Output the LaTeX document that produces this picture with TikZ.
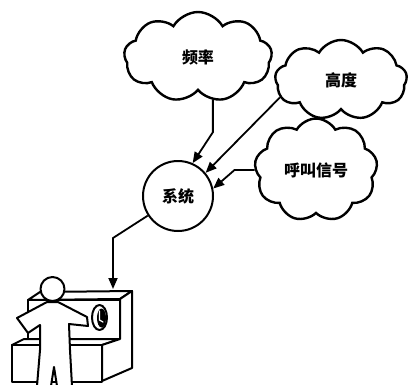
\documentclass[tikz,border=0pt]{standalone}
\usepackage{fontspec}
\newfontfamily\cjk{Noto Sans CJK SC}
\usetikzlibrary{shapes.symbols,arrows.meta}
\begin{document}
\begin{tikzpicture}[x=1pt,y=-1pt,
  ink/.style={line width=2pt,line join=round},
  idea/.style={cloud,cloud puffs=9,cloud puff arc=120,draw,line width=2.4pt,
    inner sep=0pt,font=\cjk\fontsize{16}{16}\selectfont\bfseries},
  hub/.style={circle,draw,line width=2pt,minimum size=70pt,inner sep=0pt,
    font=\cjk\fontsize{16}{16}\selectfont\bfseries},
  flow/.style={line width=1.8pt,-{Triangle[length=11pt,width=9pt]}},
  solid/.style={ink,fill=white}]
\useasboundingbox (0,0) rectangle (408,384);

% inputs and the system
\node[idea,minimum width=148pt,minimum height=90pt] (c1) at (198,57) {频率};
\node[idea,minimum width=132pt,minimum height=80pt] (c2) at (341,80) {高度};
\node[idea,minimum width=123pt,minimum height=78pt] (c3) at (316,170) {呼叫信号};
\node[hub] (sys) at (178,196) {系统};

% connectors
\coordinate (bend) at (113,238);
\coordinate (op) at (113,289);
\draw[flow] (c1.-71) -- ++(0,32) -- (sys.66);
\draw[flow] (c2.196) -- (sys.40);
\draw[flow] (c3.west) -- ++(-20,0) -- (sys.12);
\draw[flow] (sys.213) -- (bend) -- (op);

% operator console: upper housing
\draw[solid] (28,300) -- (40,292) -- (132,291) -- (120,299) -- cycle;
\draw[solid] (28,300) rectangle (120,340);
% lower desk
\draw[solid] (12,345) -- (24,339) -- (120,339) -- (102,345) -- cycle;
\draw[solid] (12,345) rectangle (102,382);
% side panel
\draw[solid] (102,345) -- (120,339) -- (120,299) -- (132,291) -- (132,368) -- (102,381) -- cycle;
% dial
\draw[solid] (99.5,317.5) ellipse [x radius=7.5,y radius=12.5];
\fill (101.5,318) ellipse [x radius=4.5,y radius=9.5];
\draw[white,line width=1.2pt,line cap=round] (99.5,311) -- (99.5,320) -- (103,322);

% operator
\draw[solid] (47,302) -- (17,318) -- (28,333) -- (40,325) -- (40,350)
  -- (37,386) -- (51,386) -- (54,367) -- (57,386) -- (72,386) -- (70,350)
  -- (69,324) -- (88,326) -- (87,317) -- (58,302) -- cycle;
\draw[solid] (52.5,289) circle [radius=12];
\end{tikzpicture}
\end{document}
